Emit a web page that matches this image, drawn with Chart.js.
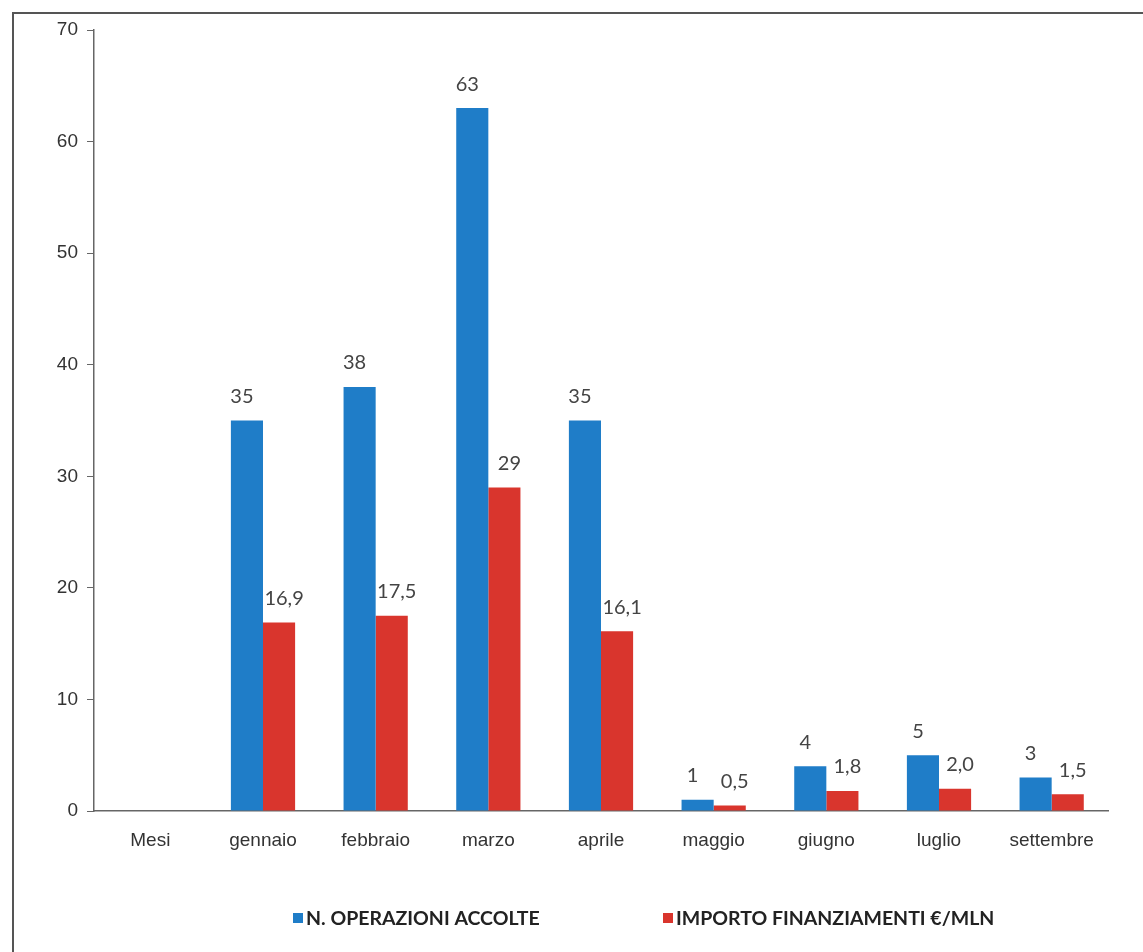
<!DOCTYPE html>
<html>
<head>
<meta charset="utf-8">
<script src="https://cdn.jsdelivr.net/npm/chart.js@4.4.0/dist/chart.umd.min.js"></script>
<style>
  html, body { margin: 0; padding: 0; background: #fff; overflow: hidden; }
  #wrap { position: relative; width: 1143px; height: 952px; }
  #frame { position: absolute; left: 12px; top: 12px; width: 1200px; height: 1000px;
           border-top: 2px solid #555; border-left: 2px solid #555; }
  canvas { position: absolute; left: 0; top: 0; }
</style>
</head>
<body>
<div id="wrap">
  <div id="frame"></div>
  <canvas id="barChart" width="1143" height="952"></canvas>
</div>
<script>
// dati
let mesi = ["Mesi", "gennaio", "febbraio", "marzo", "aprile", "maggio", "giugno", "luglio", "settembre"];
let operazioni = [null, 35, 38, 63, 35, 1, 4, 5, 3];
let importi = [null, 16.9, 17.5, 29, 16.1, 0.5, 1.8, 2.0, 1.5];
let etichetteImporti = ["", "16,9", "17,5", "29", "16,1", "0,5", "1,8", "2,0", "1,5"];
let yTicks = [0, 10, 20, 30, 40, 50, 60, 70];

const blu = '#1f7dc8';
const rosso = '#d9352d';

// etichette sopra le barre
const valueLabels = {
    id: 'valueLabels',
    afterDatasetsDraw(chart) {
        const ctx = chart.ctx;
        ctx.save();
        ctx.font = '20px Lato, "Open Sans", sans-serif';
        ctx.fillStyle = '#444';
        ctx.textAlign = 'center';
        ctx.textBaseline = 'middle';
        chart.data.datasets.forEach((ds, di) => {
            const meta = chart.getDatasetMeta(di);
            meta.data.forEach((bar, i) => {
                if (ds.data[i] == null) return;
                const txt = di === 0 ? String(ds.data[i]) : etichetteImporti[i];
                const dx = di === 0 ? -5 : 5;
                ctx.fillText(txt, bar.x + dx, bar.y - 24);
            });
        });
        ctx.restore();
    }
};

// legenda disegnata in basso
const legendaBassa = {
    id: 'legendaBassa',
    afterDraw(chart) {
        const ctx = chart.ctx;
        const starts = [293, 663];
        const y = 918;
        ctx.save();
        ctx.font = 'bold 19.5px Lato, "Open Sans", sans-serif';
        ctx.textBaseline = 'middle';
        ctx.textAlign = 'left';
        chart.data.datasets.forEach((ds, di) => {
            ctx.fillStyle = ds.backgroundColor;
            ctx.fillRect(starts[di], y - 5, 10, 10);
            ctx.fillStyle = '#222';
            ctx.fillText(ds.label, starts[di] + 13, y + 1);
        });
        ctx.restore();
    }
};

let ctxB = document.getElementById("barChart").getContext('2d');
let myBarChart = new Chart(ctxB, {
    type: 'bar',
    data: {
        labels: mesi,
        datasets: [{
            label: "N. OPERAZIONI ACCOLTE",
            data: operazioni,
            backgroundColor: blu,
            categoryPercentage: 0.57,
            barPercentage: 1
        },
        {
            label: "IMPORTO FINANZIAMENTI €/MLN",
            data: importi,
            backgroundColor: rosso,
            categoryPercentage: 0.57,
            barPercentage: 1
        }]
    },
    options: {
        responsive: false,
        animation: false,
        layout: { padding: { left: 0, right: 35, top: 30, bottom: 0 } },
        plugins: {
            legend: { display: false },
            tooltip: { enabled: false }
        },
        scales: {
            x: {
                grid: { display: false },
                border: { display: true, color: '#666', width: 1.5 },
                ticks: {
                    color: '#333',
                    padding: 10,
                    font: { family: '"Liberation Sans Narrow", "Liberation Sans", Arial', size: 19 }
                },
                afterFit(scale) { scale.height = 141; }
            },
            y: {
                min: 0,
                max: 70,
                afterBuildTicks(scale) { scale.ticks = yTicks.map(v => ({ value: v })); },
                grid: { drawOnChartArea: false, drawTicks: true, tickLength: 7, color: '#666' },
                border: { display: true, color: '#666', width: 1.5 },
                ticks: {
                    color: '#333',
                    padding: 9,
                    font: { family: '"Liberation Sans", Arial', size: 19 }
                },
                afterFit(scale) { scale.width = 94; }
            }
        }
    },
    plugins: [valueLabels, legendaBassa]
});
</script>
</body>
</html>
